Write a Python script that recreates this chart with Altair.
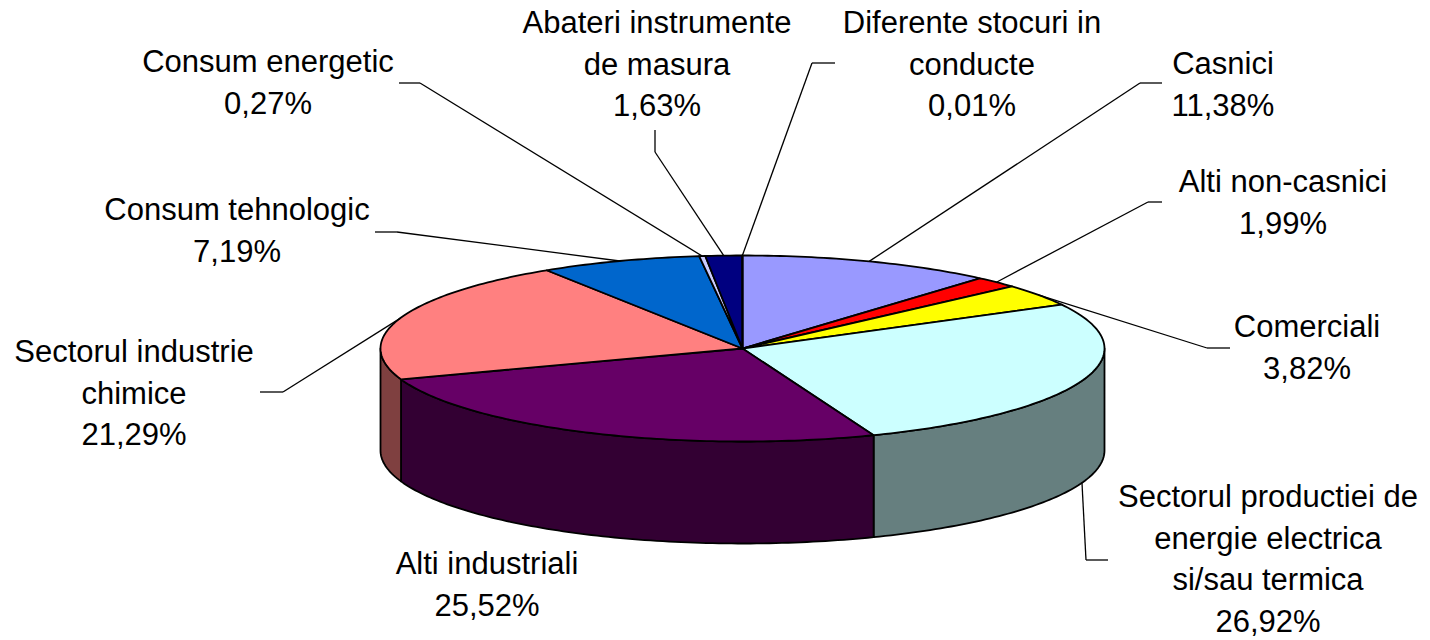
import math
import altair as alt
import pandas as pd

# ---------------- data ----------------
categories = [
    "Casnici",
    "Alti non-casnici",
    "Comerciali",
    "Sectorul productiei de energie electrica si/sau termica",
    "Alti industriali",
    "Sectorul industrie chimice",
    "Consum tehnologic",
    "Consum energetic",
    "Abateri instrumente de masura",
    "Diferente stocuri in conducte",
]
values = [11.38, 1.99, 3.82, 26.92, 25.52, 21.29, 7.19, 0.27, 1.63, 0.01]
colors = ["#9999FF", "#FF0000", "#FFFF00", "#CCFFFF", "#660066",
          "#FF8080", "#0066CC", "#CCCCFF", "#000080", "#FF00FF"]
label_lines = [
    ["Casnici"],
    ["Alti non-casnici"],
    ["Comerciali"],
    ["Sectorul productiei de", "energie electrica", "si/sau termica"],
    ["Alti industriali"],
    ["Sectorul industrie", "chimice"],
    ["Consum tehnologic"],
    ["Consum energetic"],
    ["Abateri instrumente", "de masura"],
    ["Diferente stocuri in", "conducte"],
]

# ---------------- layout (pixel positions, page coordinates) ----------------
OFF = 8                      # page margin
CX, CY = 742.5, 348.5        # centre of the top ellipse
RX, RY = 362.0, 93.0         # ellipse radii
DEPTH = 102.0                # thickness of the pie
LINE_H = 41.5
FONT_SIZE = 31
label_pos = [(1223, 74), (1283, 192), (1307, 337), (1268, 507), (487, 574),
             (134, 362), (237, 220), (268, 72), (657, 33), (972, 33)]
leader_pts = [
    [(1162, 83), (1140, 83)],
    [(1162, 202), (1148, 202)],
    [(1230, 348), (1207, 348)],
    [(1108, 560), (1086, 560)],
    None,
    [(260, 392), (283, 392)],
    [(375, 232), (397, 232)],
    [(399, 83), (420, 83)],
    [(655, 130), (655, 152)],
    [(835, 63), (812, 63)],
]


def darker(hexcol):
    r, g, b = (int(hexcol[i:i + 2], 16) for i in (1, 3, 5))
    return "#%02X%02X%02X" % (r // 2, g // 2, b // 2)


def ell(theta_deg, dz=0.0):
    t = math.radians(theta_deg)
    return [CX + RX * math.sin(t) - OFF, CY - RY * math.cos(t) + dz - OFF]


def arc(t1, t2, dz=0.0):
    n = max(2, int(math.ceil(abs(t2 - t1) / 1.0)) + 1)
    return [ell(t1 + (t2 - t1) * i / (n - 1), dz) for i in range(n)]


total = sum(values)
starts, ends = [], []
acc = 0.0
for v in values:
    starts.append(acc / total * 360.0)
    acc += v
    ends.append(acc / total * 360.0)

tops, walls = [], []
for cat, t1, t2 in zip(categories, starts, ends):
    ring = [[CX - OFF, CY - OFF]] + arc(t1, t2) + [[CX - OFF, CY - OFF]]
    tops.append({"type": "Feature", "properties": {"key": cat},
                 "geometry": {"type": "Polygon", "coordinates": [ring]}})
    w1, w2 = max(t1, 90.0), min(t2, 270.0)
    if w2 > w1:
        upper = arc(w1, w2)
        lower = arc(w2, w1, DEPTH)
        ring = upper + lower + [upper[0]]
        walls.append({"type": "Feature", "properties": {"key": cat},
                      "geometry": {"type": "Polygon", "coordinates": [ring]}})

proj = dict(type="identity", scale=1, translate=[0, 0])

wall_layer = alt.Chart(alt.Data(values=walls)).mark_geoshape(
    stroke="black", strokeWidth=1.8, strokeJoin="round"
).encode(
    color=alt.Color("properties.key:N",
                    scale=alt.Scale(domain=categories, range=[darker(c) for c in colors]),
                    legend=None)
).project(**proj)

top_layer = alt.Chart(alt.Data(values=tops)).mark_geoshape(
    stroke="black", strokeWidth=1.8, strokeJoin="round"
).encode(
    color=alt.Color("properties.key:N",
                    scale=alt.Scale(domain=categories, range=colors),
                    legend=None)
).project(**proj)

# leader lines
seg_rows = []
for cat, pts, t1, t2 in zip(categories, leader_pts, starts, ends):
    if not pts:
        continue
    mid = (t1 + t2) / 2.0
    end = ell(mid, DEPTH if 90.0 < mid < 270.0 else 0.0)
    chain = [[p[0] - OFF, p[1] - OFF] for p in pts] + [end]
    for a, b in zip(chain[:-1], chain[1:]):
        seg_rows.append({"key": cat, "x": a[0], "y": a[1], "x2": b[0], "y2": b[1]})
seg_df = pd.DataFrame(seg_rows)

leader_layer = alt.Chart(seg_df).mark_rule(color="black", strokeWidth=1.3).encode(
    longitude="x:Q", latitude="y:Q", longitude2="x2:Q", latitude2="y2:Q"
).project(**proj)

# labels
txt_rows = []
for cat, lines, v, (lx, ly) in zip(categories, label_lines, values, label_pos):
    all_lines = lines + [f"{v:.2f}".replace(".", ",") + "%"]
    for i, s in enumerate(all_lines):
        txt_rows.append({"key": cat, "t": s, "x": lx - OFF, "y": ly - OFF + i * LINE_H})
txt_df = pd.DataFrame(txt_rows)

text_layer = alt.Chart(txt_df).mark_text(
    font="Liberation Sans", fontSize=FONT_SIZE, color="black",
    align="center", baseline="alphabetic"
).encode(
    longitude="x:Q", latitude="y:Q", text="t:N"
).project(**proj)

chart = alt.layer(wall_layer, top_layer, leader_layer, text_layer).resolve_scale(
    color="independent"
).properties(
    width=1414, height=628, padding=0, autosize=alt.AutoSizeParams(type="none")
).configure_view(strokeWidth=0)

chart.save("out.html", embed_options={"renderer": "svg", "actions": False})
